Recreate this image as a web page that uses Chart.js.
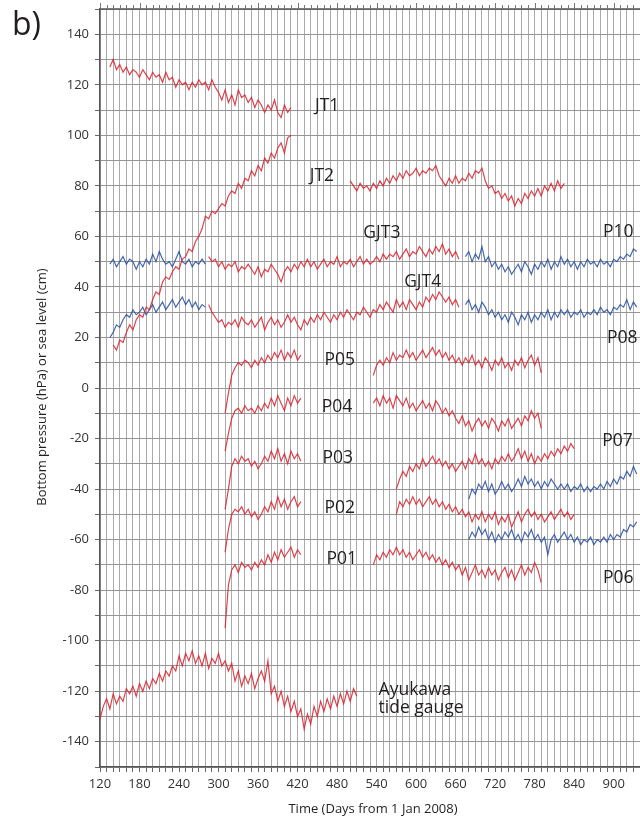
<!DOCTYPE html>
<html>
<head>
<meta charset="utf-8">
<script src="https://cdn.jsdelivr.net/npm/chart.js@4.4.1/dist/chart.umd.min.js"></script>
<style>
  html, body { margin: 0; padding: 0; background: #fff; }
  #chart { display: block; }
</style>
</head>
<body>
<canvas id="chart" width="640" height="823"></canvas>
<script>
// sampling step (days) for all traces
const step = 5;

// JT1
const jt1Start = 135;
const jt1 = [127, 130, 126, 128, 125, 127, 124, 126, 125, 123, 126, 124, 122, 125, 123, 124, 121, 125, 122, 123,
  119, 122, 120, 121, 118, 121, 119, 122, 120, 121, 118, 122, 119, 117, 114, 118, 113, 116, 112, 118,
  115, 116, 113, 115, 111, 114, 112, 109, 112, 110, 114, 109, 107, 112, 109, 111];

// JT2 (two deployments)
const jt2aStart = 140;
const jt2a = [17, 15, 19, 18, 22, 25, 23, 27, 29, 28, 32, 31, 35, 38, 37, 42, 44, 43, 46, 48,
  47, 51, 52, 55, 54, 58, 60, 63, 68, 67, 70, 69, 71, 73, 72, 76, 78, 77, 81, 79,
  83, 82, 86, 84, 88, 86, 91, 89, 93, 91, 95, 97, 93, 99, 100];
const jt2bStart = 500;
const jt2b = [82, 80, 78, 81, 79, 80, 78, 81, 79, 82, 80, 83, 81, 84, 82, 85, 83, 86, 84, 85,
  87, 84, 86, 85, 87, 86, 88, 84, 82, 80, 83, 81, 84, 81, 83, 82, 85, 83, 86, 85,
  87, 82, 79, 80, 77, 78, 75, 77, 74, 76, 72, 75, 73, 77, 75, 78, 76, 79, 76, 80,
  78, 81, 78, 82, 79, 81];

// early blue records (before GJT3 / GJT4)
const upperEarlyStart = 135;
const upperEarly = [49, 51, 48, 50, 52, 49, 51, 50, 47, 50, 48, 51, 49, 53, 50, 54, 51, 49, 50, 48,
  51, 54, 50, 49, 51, 48, 50, 49, 51, 49];
const lowerEarlyStart = 135;
const lowerEarly = [20, 22, 25, 24, 27, 29, 28, 31, 29, 30, 32, 29, 31, 33, 30, 32, 34, 31, 33, 35,
  32, 34, 36, 33, 35, 32, 34, 31, 33, 32];

// GJT3, GJT4
const gjt3Start = 285;
const gjt3 = [52, 50, 51, 48, 50, 47, 49, 48, 50, 46, 48, 47, 49, 47, 45, 48, 44, 47, 46, 49,
  47, 45, 42, 46, 48, 46, 49, 47, 50, 48, 51, 48, 50, 47, 49, 51, 48, 50, 49, 52,
  48, 50, 49, 51, 48, 50, 52, 49, 51, 49, 50, 52, 50, 53, 51, 53, 52, 54, 51, 53,
  55, 52, 54, 53, 56, 54, 52, 55, 53, 56, 54, 57, 53, 55, 52, 54, 51];
const gjt4Start = 285;
const gjt4 = [33, 30, 28, 26, 27, 24, 26, 25, 27, 24, 28, 26, 25, 27, 24, 26, 28, 23, 26, 28,
  25, 27, 24, 26, 29, 26, 28, 25, 23, 27, 25, 28, 26, 29, 27, 30, 28, 26, 29, 27,
  30, 28, 31, 29, 27, 30, 29, 32, 30, 28, 31, 30, 33, 31, 34, 32, 30, 35, 32, 34,
  31, 35, 33, 31, 34, 32, 36, 34, 37, 35, 38, 36, 34, 36, 33, 35, 32];

// P10, P08
const p10Start = 675;
const p10 = [52, 54, 50, 53, 51, 56, 50, 52, 48, 50, 47, 49, 46, 48, 45, 47, 49, 46, 50, 48,
  45, 49, 47, 50, 48, 51, 47, 50, 48, 52, 49, 51, 48, 50, 47, 50, 48, 51, 49, 50,
  48, 51, 49, 50, 48, 51, 50, 52, 51, 53, 52, 55, 54];
const p08Start = 675;
const p08 = [33, 35, 31, 33, 30, 34, 32, 29, 31, 28, 30, 27, 29, 26, 30, 28, 25, 29, 27, 30,
  26, 29, 27, 30, 28, 31, 27, 30, 28, 31, 29, 31, 28, 30, 29, 31, 28, 30, 29, 31,
  29, 32, 30, 31, 29, 32, 31, 33, 32, 35, 31, 34, 32];

// P05 - P01, first deployment
const firstStart = 310;
const p05a = [-10, -2, 5, 8, 10, 9, 11, 10, 8, 11, 9, 12, 10, 13, 11, 14, 12, 15, 11, 14, 12, 15, 11, 13];
const p04a = [-25, -18, -12, -9, -8, -10, -7, -9, -8, -10, -7, -9, -6, -8, -4, -7, -3, -6, -9, -4, -7, -3, -6, -4];
const p03a = [-48, -40, -31, -28, -30, -27, -29, -28, -31, -29, -32, -30, -27, -29, -25, -28, -24, -29, -26, -30, -25, -28, -26, -29];
const p02a = [-65, -56, -50, -48, -49, -47, -50, -48, -51, -49, -52, -50, -47, -49, -45, -48, -43, -47, -44, -48, -45, -43, -47, -45];
const p01a = [-95, -78, -72, -70, -73, -69, -71, -70, -72, -69, -71, -68, -70, -66, -69, -65, -68, -64, -67, -65, -63, -67, -64, -66];

// P05, P04, P01, second deployment
const secondStart = 535;
const p05b = [5, 9, 11, 9, 12, 10, 14, 11, 13, 12, 15, 12, 14, 11, 13, 15, 12, 14, 16, 13,
  15, 12, 14, 11, 13, 10, 12, 9, 12, 10, 13, 9, 11, 8, 12, 10, 7, 11, 9, 12,
  8, 10, 7, 11, 9, 12, 8, 11, 13, 9, 12, 6];
const p04b = [-6, -4, -7, -3, -6, -4, -8, -3, -5, -7, -4, -8, -6, -9, -7, -5, -8, -6, -9, -5,
  -7, -10, -8, -11, -9, -12, -14, -11, -15, -13, -17, -14, -12, -15, -13, -16, -12, -14, -17, -13,
  -15, -12, -16, -14, -12, -15, -11, -13, -9, -12, -10, -16];
const p01b = [-70, -66, -68, -65, -67, -64, -66, -63, -66, -64, -67, -65, -68, -66, -64, -67, -65, -68, -66, -69,
  -67, -70, -68, -71, -69, -72, -70, -74, -71, -76, -73, -70, -74, -72, -75, -71, -74, -72, -76, -73,
  -71, -75, -72, -76, -73, -70, -74, -71, -73, -69, -72, -77];

// P03, P02, second deployment
const thirdStart = 570;
const p03b = [-40, -36, -33, -35, -31, -33, -30, -32, -28, -31, -29, -27, -30, -28, -31, -29, -32, -30, -33, -31,
  -29, -32, -28, -30, -26, -30, -28, -31, -29, -32, -28, -30, -27, -29, -26, -29, -27, -24, -28, -25,
  -29, -26, -30, -27, -29, -26, -28, -25, -27, -24, -26, -23, -25, -22, -24];
const p02b = [-50, -45, -47, -44, -46, -43, -46, -44, -47, -45, -43, -46, -44, -47, -45, -48, -46, -49, -47, -50,
  -48, -51, -49, -53, -50, -52, -49, -53, -50, -52, -49, -54, -51, -53, -50, -55, -52, -49, -53, -50,
  -48, -51, -49, -52, -50, -53, -51, -49, -52, -50, -48, -51, -49, -52, -50];

// P07, P06
const p07Start = 680;
const p07 = [-44, -40, -42, -38, -40, -37, -41, -38, -42, -40, -37, -40, -38, -41, -39, -36, -39, -35, -38, -36,
  -39, -37, -40, -37, -39, -36, -38, -40, -38, -40, -38, -41, -39, -40, -38, -41, -39, -41, -39, -40,
  -38, -40, -37, -39, -36, -38, -35, -36, -33, -35, -31, -34];
const p06Start = 680;
const p06 = [-60, -57, -59, -55, -58, -56, -60, -57, -61, -58, -60, -57, -59, -56, -60, -58, -61, -57, -59, -56,
  -60, -58, -61, -59, -66, -60, -58, -61, -59, -57, -60, -58, -61, -59, -62, -60, -61, -59, -62, -60,
  -61, -59, -61, -58, -60, -58, -59, -56, -57, -54, -55, -53];

// Ayukawa tide gauge
const ayuStart = 120;
const ayukawa = [-131, -126, -123, -127, -121, -125, -122, -124, -119, -121, -118, -122, -117, -120, -116, -119, -115, -117, -113, -116,
  -112, -114, -110, -112, -106, -110, -105, -108, -104, -109, -106, -110, -105, -111, -107, -109, -105, -110, -108, -112,
  -109, -116, -112, -118, -114, -117, -113, -119, -115, -112, -116, -108, -121, -118, -124, -120, -126, -122, -128, -124,
  -130, -127, -135, -129, -133, -126, -130, -124, -128, -123, -127, -122, -126, -121, -125, -120, -124, -119, -122];

// station labels (text, day, value at baseline)
const labelText = ["JT1", "JT2", "GJT3", "GJT4", "P10", "P08", "P05", "P04", "P03", "P07", "P02", "P01", "P06"];
const labelDay = [465, 457, 548, 610, 907, 913, 484, 480, 481, 906, 484, 487, 907];
const labelValue = [109.6, 81.9, 59.4, 40, 59.8, 17.9, 9.2, -9.4, -29.6, -22.8, -49.3, -69.5, -77];

const RED = "rgba(218, 32, 42, 0.85)";
const BLUE = "rgba(38, 78, 160, 0.85)";

function series(start, values, color) {
  return {
    data: values.map((v, i) => ({ x: start + i * step, y: v })),
    borderColor: color,
    borderWidth: 1.2,
    pointRadius: 0,
    tension: 0,
    fill: false,
  };
}

const datasets = [
  series(jt1Start, jt1, RED),
  series(jt2aStart, jt2a, RED),
  series(jt2bStart, jt2b, RED),
  series(upperEarlyStart, upperEarly, BLUE),
  series(lowerEarlyStart, lowerEarly, BLUE),
  series(gjt3Start, gjt3, RED),
  series(gjt4Start, gjt4, RED),
  series(p10Start, p10, BLUE),
  series(p08Start, p08, BLUE),
  series(firstStart, p05a, RED),
  series(firstStart, p04a, RED),
  series(firstStart, p03a, RED),
  series(firstStart, p02a, RED),
  series(firstStart, p01a, RED),
  series(secondStart, p05b, RED),
  series(secondStart, p04b, RED),
  series(secondStart, p01b, RED),
  series(thirdStart, p03b, RED),
  series(thirdStart, p02b, RED),
  series(p07Start, p07, BLUE),
  series(p06Start, p06, BLUE),
  series(ayuStart, ayukawa, RED),
];

const FONT = "'Open Sans', 'Noto Sans', sans-serif";

// texts, top frame line and top tick marks
const decorations = {
  id: "decorations",
  afterDraw(chart) {
    const ctx = chart.ctx;
    const area = chart.chartArea;
    const xs = chart.scales.x;
    const ys = chart.scales.y;
    ctx.save();

    // top frame with ticks
    ctx.strokeStyle = "#555";
    ctx.lineWidth = 1.5;
    ctx.beginPath();
    ctx.moveTo(area.left, area.top);
    ctx.lineTo(area.right, area.top);
    ctx.stroke();
    ctx.lineWidth = 1;
    ctx.strokeStyle = "#777";
    for (let d = 120; d <= 940; d += 10) {
      const px = Math.round(xs.getPixelForValue(d)) + 0.5;
      const len = (d - 120) % 60 === 0 ? 6 : 4;
      ctx.beginPath();
      ctx.moveTo(px, area.top);
      ctx.lineTo(px, area.top - len);
      ctx.stroke();
    }

    ctx.fillStyle = "#231f20";
    // panel letter
    ctx.font = "32px " + FONT;
    ctx.textAlign = "left";
    ctx.textBaseline = "alphabetic";
    ctx.fillText("b)", 12, 35);

    // axis titles
    ctx.font = "13px " + FONT;
    ctx.textAlign = "center";
    ctx.fillText("Time (Days from 1 Jan 2008)", 373, 813);
    ctx.save();
    ctx.translate(46, 387);
    ctx.rotate(-Math.PI / 2);
    ctx.fillText("Bottom pressure (hPa) or sea level (cm)", 0, 0);
    ctx.restore();

    // station labels
    ctx.font = "17.5px " + FONT;
    ctx.textAlign = "center";
    labelText.forEach((t, i) => {
      ctx.fillText(t, xs.getPixelForValue(labelDay[i]), ys.getPixelForValue(labelValue[i]));
    });
    ctx.textAlign = "left";
    ctx.fillText("Ayukawa", xs.getPixelForValue(543), ys.getPixelForValue(-121.7));
    ctx.fillText("tide gauge", xs.getPixelForValue(543), ys.getPixelForValue(-128.8));

    ctx.restore();
  },
};

new Chart(document.getElementById("chart").getContext("2d"), {
  type: "line",
  data: { datasets: datasets },
  options: {
    responsive: false,
    animation: false,
    layout: { padding: { top: 9, right: 0, left: 0, bottom: 0 } },
    plugins: {
      legend: { display: false },
      tooltip: { enabled: false },
    },
    scales: {
      x: {
        type: "linear",
        min: 120,
        max: 940,
        afterFit: (scale) => {
          scale.height = 56;
          scale.paddingLeft = 0;
          scale.paddingRight = 0;
        },
        grid: {
          color: "#aaaaaa",
          lineWidth: 1,
          tickLength: 5,
          tickColor: "#666",
        },
        border: { color: "#555", width: 1.5 },
        ticks: {
          stepSize: 10,
          autoSkip: false,
          maxRotation: 0,
          includeBounds: false,
          padding: 4,
          color: "#333",
          font: { family: FONT, size: 13 },
          callback: (v) => ((v - 120) % 60 === 0 ? String(v) : ""),
        },
      },
      y: {
        min: -150,
        max: 150,
        afterFit: (scale) => {
          scale.width = 100;
          scale.paddingTop = 0;
          scale.paddingBottom = 0;
        },
        grid: {
          color: "#959595",
          lineWidth: 1,
          tickLength: 5,
          tickColor: "#666",
        },
        border: { color: "#555", width: 1.5 },
        ticks: {
          stepSize: 10,
          autoSkip: false,
          padding: 6,
          color: "#333",
          font: { family: FONT, size: 13 },
          callback: (v) => (v % 20 === 0 && Math.abs(v) < 150 ? String(v) : ""),
        },
      },
    },
  },
  plugins: [decorations],
});
</script>
</body>
</html>
